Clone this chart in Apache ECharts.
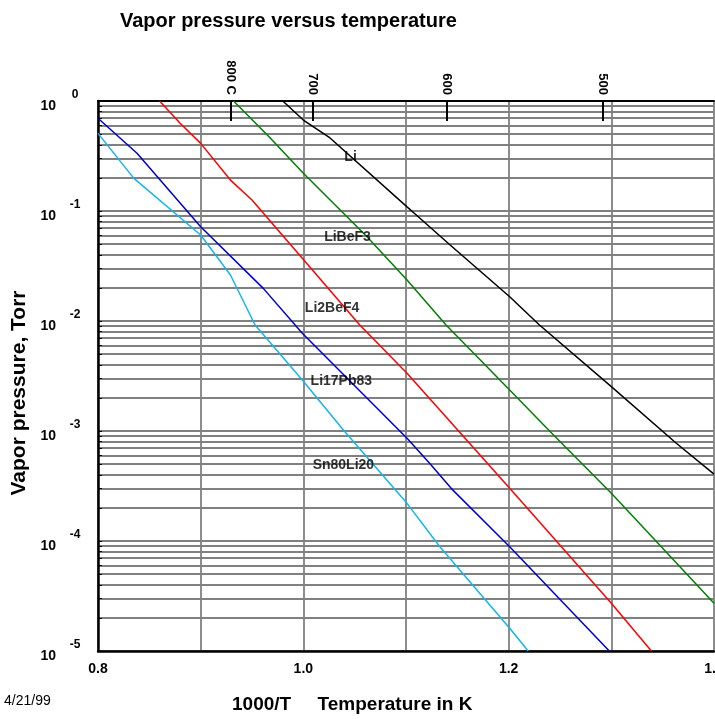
<!DOCTYPE html>
<html>
<head>
<meta charset="utf-8">
<script src="https://cdn.jsdelivr.net/npm/echarts@6/dist/echarts.min.js"></script>
<style>
  html, body { margin: 0; padding: 0; background: #fff; }
  #chart { width: 715px; height: 719px; }
</style>
</head>
<body>
<div id="chart"></div>
<script>
var FONT = '"Liberation Sans Narrow", "Arial Narrow", "Liberation Sans", Arial, sans-serif';

// x = 1000/T (T in K), y = vapor pressure in Torr
var liX = [0.980, 1.000, 1.026, 1.101, 1.110, 1.143, 1.201, 1.230, 1.300, 1.363, 1.400];
var liP = [1.0, 0.671, 0.461, 0.109, 0.0920, 0.0491, 0.0166, 0.0092, 0.00253, 0.000778, 0.000406];

var libef3X = [0.932, 0.968, 1.000, 1.062, 1.101, 1.139, 1.201, 1.242, 1.300, 1.400];
var libef3P = [1.0, 0.458, 0.220, 0.0583, 0.0236, 0.0092, 0.00236, 0.000953, 0.000272, 0.0000272];

var li2bef4X = [0.860, 0.880, 0.900, 0.929, 0.950, 0.999, 1.055, 1.101, 1.201, 1.300, 1.339];
var li2bef4P = [1.0, 0.627, 0.412, 0.191, 0.126, 0.0372, 0.0092, 0.00335, 0.000301, 0.0000272, 0.00001];

var li17pb83X = [0.800, 0.838, 0.900, 0.961, 0.999, 1.101, 1.123, 1.144, 1.201, 1.298];
var li17pb83P = [0.697, 0.335, 0.0719, 0.0198, 0.00773, 0.000859, 0.000508, 0.000301, 0.0000887, 0.00001];

var sn80li20X = [0.800, 0.835, 0.900, 0.929, 0.953, 0.999, 1.039, 1.101, 1.133, 1.201, 1.219];
var sn80li20P = [0.508, 0.198, 0.0605, 0.0262, 0.0092, 0.00291, 0.00102, 0.000220, 0.0000887, 0.0000161, 0.00001];

// curve name tags placed on the chart
var tagNames = ['Li', 'LiBeF3', 'Li2BeF4', 'Li17Pb83', 'Sn80Li20'];
var tagX = [1.046, 1.043, 1.028, 1.037, 1.039];
var tagP = [0.310, 0.0580, 0.0131, 0.00285, 0.000491];

// top axis: temperature in C
var tempLabels = ['800 C', '700', '600', '500'];
var tempX = [0.929, 1.009, 1.1395, 1.2915];

// bottom axis labels
var xLabels = [0.8, 1.0, 1.2, 1.4];

// y axis decades and the 1..9 lines between them
var decades = [1e-5, 1e-4, 1e-3, 1e-2, 1e-1, 1];
var yLines = [];
for (var d = 0; d < decades.length - 1; d++) {
    for (var k = 1; k < 10; k++) {
        yLines.push(+(decades[d] * k).toPrecision(3));
    }
}
yLines.push(1);

var colors = ['#000000', '#008000', '#ff0000', '#0000cc', '#14b4ec'];
var names = ['Li', 'LiBeF3', 'Li2BeF4', 'Li17Pb83', 'Sn80Li20'];
var xs = [liX, libef3X, li2bef4X, li17pb83X, sn80li20X];
var ps = [liP, libef3P, li2bef4P, li17pb83P, sn80li20P];

function pairs(x, y) {
    var out = [];
    for (var i = 0; i < x.length; i++) out.push([x[i], y[i]]);
    return out;
}

var series = [];
for (var i = 0; i < names.length; i++) {
    series.push({
        name: names[i],
        type: 'line',
        xAxisIndex: 0,
        data: pairs(xs[i], ps[i]),
        showSymbol: false,
        symbol: 'none',
        lineStyle: { color: colors[i], width: 1.5 },
        z: 5
    });
}
var tagData = [];
for (var j = 0; j < tagNames.length; j++) tagData.push([tagX[j], tagP[j], tagNames[j]]);
series.push({
    type: 'scatter',
    data: tagData,
    symbolSize: 0,
    z: 10,
    label: {
        show: true,
        position: 'inside',
        formatter: function (p) { return p.data[2]; },
        fontFamily: FONT,
        fontWeight: 'bold',
        fontSize: 14,
        color: '#000'
    }
});

var chart = echarts.init(document.getElementById('chart'));
chart.setOption({
    animation: false,
    backgroundColor: '#fff',
    title: [
        {
            text: 'Vapor pressure versus temperature',
            left: 120, top: 11, padding: 0,
            textStyle: { fontFamily: FONT, fontWeight: 'bold', fontSize: 20, color: '#000' }
        },
        {
            text: '1000/T     Temperature in K',
            left: 232, top: 695, padding: 0,
            textStyle: { fontFamily: FONT, fontWeight: 'bold', fontSize: 19, color: '#000' }
        },
        {
            text: '4/21/99',
            left: 4, top: 694, padding: 0,
            textStyle: { fontFamily: FONT, fontWeight: 'normal', fontSize: 14, color: '#000' }
        }
    ],
    grid: { left: 98, right: 1, top: 101, bottom: 68, outerBoundsMode: 'none' },
    xAxis: [
        {
            type: 'value',
            position: 'bottom',
            min: 0.8, max: 1.4, interval: 0.1,
            axisLine: { lineStyle: { color: '#000', width: 2.5 } },
            axisTick: { show: false },
            splitLine: { show: true, lineStyle: { color: '#808080', width: 1.8 } },
            axisLabel: {
                customValues: xLabels,
                formatter: function (v) { return v.toFixed(1); },
                margin: 11,
                fontFamily: FONT, fontWeight: 'bold', fontSize: 14, color: '#000'
            }
        },
        {
            type: 'value',
            position: 'top',
            min: 0.8, max: 1.4,
            axisLine: { lineStyle: { color: '#000', width: 2 } },
            axisTick: {
                customValues: tempX,
                inside: true, length: 20,
                lineStyle: { color: '#000', width: 2 }
            },
            splitLine: { show: false },
            axisLabel: {
                customValues: tempX,
                rotate: 90,
                margin: 6,
                formatter: function (v) {
                    var best = 0;
                    for (var i = 1; i < tempX.length; i++) {
                        if (Math.abs(tempX[i] - v) < Math.abs(tempX[best] - v)) best = i;
                    }
                    return tempLabels[best];
                },
                fontFamily: FONT, fontWeight: 'bold', fontSize: 13, color: '#000'
            }
        }
    ],
    yAxis: {
        type: 'log',
        logBase: 10,
        min: 1e-5, max: 1,
        name: 'Vapor pressure, Torr',
        nameLocation: 'middle',
        nameGap: 68,
        nameTextStyle: {
            fontFamily: FONT, fontWeight: 'bold', fontSize: 21, color: '#000',
            padding: [0, 34, 0, 0]
        },
        axisLine: { show: true, lineStyle: { color: '#000', width: 2.5 } },
        axisTick: {
            customValues: yLines,
            inside: true, length: 4,
            lineStyle: { color: '#000', width: 1 }
        },
        splitLine: { show: true, lineStyle: { color: '#808080', width: 1.8 } },
        axisLabel: {
            customValues: decades,
            margin: 18,
            formatter: function (v) {
                return '{b|10}{e|' + Math.round(Math.log10(v)) + '}';
            },
            rich: {
                b: { fontFamily: FONT, fontWeight: 'bold', fontSize: 14, color: '#000',
                     lineHeight: 24, verticalAlign: 'bottom', padding: [0, 14, 0, 0] },
                e: { fontFamily: FONT, fontWeight: 'bold', fontSize: 12, color: '#000',
                     lineHeight: 12, verticalAlign: 'top', width: 10, align: 'left' }
            }
        }
    },
    series: series
});
</script>
</body>
</html>
